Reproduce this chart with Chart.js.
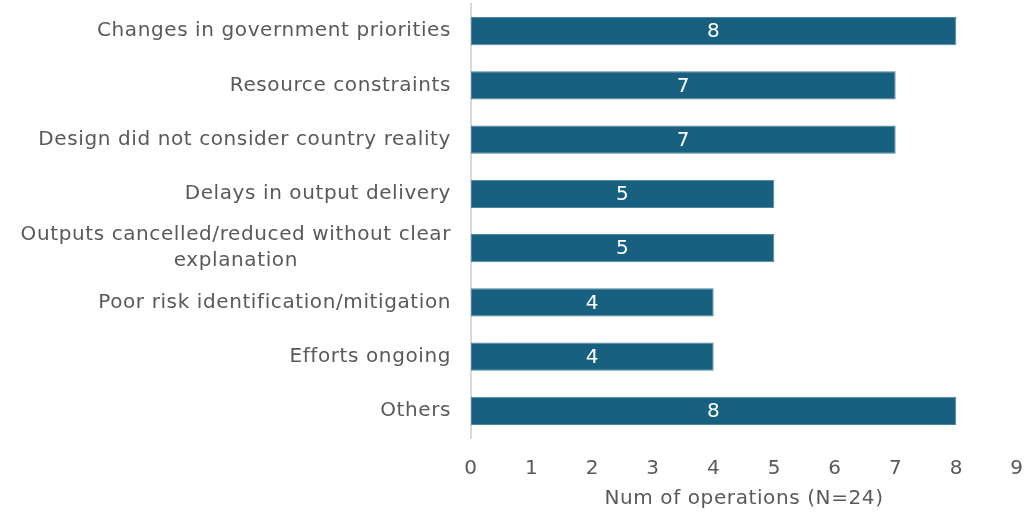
<!DOCTYPE html>
<html lang="en">
<head>
    <meta charset="UTF-8">
    <title>Num of operations</title>
    <style>
        body { margin: 0; background: #ffffff; }
        #wrap { width: 1026px; height: 515px; }
    </style>
</head>
<body>
    <div id="wrap">
        <canvas id="myChart" width="1026" height="515"></canvas>
    </div>

    <script src="https://cdn.jsdelivr.net/npm/chart.js"></script>
    <script>
        // 항목과 값
        const categories = [
            "Changes in government priorities",
            "Resource constraints",
            "Design did not consider country reality",
            "Delays in output delivery",
            ["Outputs cancelled/reduced without clear", "explanation"],
            "Poor risk identification/mitigation",
            "Efforts ongoing",
            "Others"
        ];
        const counts = [8, 7, 7, 5, 5, 4, 4, 8];
        const xTicks = [0, 1, 2, 3, 4, 5, 6, 7, 8, 9];
        const xTitle = "Num of operations (N=24)";

        const FONT = "'DejaVu Sans', sans-serif";
        const SIZE = 20;
        const SPACING = "0.6px";
        const GREY = "#595959";

        // 두 줄 라벨의 둘째 줄을 가운데 정렬처럼 보이게 뒤에 공백을 붙임
        const measure = document.createElement("canvas").getContext("2d");
        measure.font = SIZE + "px " + FONT;
        measure.letterSpacing = SPACING;
        function centerLines(label){
            if(!Array.isArray(label)) return label;
            const w0 = measure.measureText(label[0]).width;
            const sp = measure.measureText("\u00A0").width;
            return label.map(function(line, i){
                if(i == 0) return line;
                const gap = (w0 - measure.measureText(line).width) / 2;
                return line + "\u00A0".repeat(Math.max(0, Math.round(gap / sp)));
            });
        }

        // 글자 간격
        const spacing = {
            id: "spacing",
            beforeDraw(chart) { chart.ctx.letterSpacing = SPACING; }
        };

        // 막대 가운데에 값 표시
        const barLabels = {
            id: "barLabels",
            afterDatasetsDraw(chart) {
                const c = chart.ctx;
                const meta = chart.getDatasetMeta(0);
                c.save();
                c.fillStyle = "#ffffff";
                c.font = SIZE + "px " + FONT;
                c.textAlign = "center";
                c.textBaseline = "middle";
                meta.data.forEach(function(bar, i){
                    const mid = (bar.x + bar.base) / 2;
                    c.fillText(String(counts[i]), mid, bar.y + 1);
                });
                c.restore();
            }
        };

        const ctx = document.getElementById("myChart");
        new Chart(ctx, {
            type: "bar",
            data: {
                labels: categories.map(centerLines),
                datasets: [{
                    data: counts,
                    backgroundColor: "#17607f",
                    borderColor: "#4f86a0",
                    borderWidth: 1,
                    borderSkipped: false,
                    barPercentage: 0.52,
                    categoryPercentage: 1.0
                }]
            },
            options: {
                indexAxis: "y",
                responsive: false,
                animation: false,
                layout: { padding: 0 },
                plugins: {
                    legend: { display: false },
                    tooltip: { enabled: false }
                },
                scales: {
                    x: {
                        min: 0,
                        max: 9,
                        afterBuildTicks(scale) {
                            scale.ticks = xTicks.map(v => ({ value: v }));
                        },
                        afterFit(scale) {
                            scale.paddingRight = 9;
                            scale.height = 77;
                        },
                        grid: { display: false, drawTicks: false },
                        border: { display: false },
                        ticks: { color: GREY, font: { family: FONT, size: SIZE }, padding: 19, autoSkip: false, maxRotation: 0 },
                        title: {
                            display: true,
                            text: xTitle,
                            color: GREY,
                            font: { family: FONT, size: SIZE },
                            padding: { top: 0, bottom: 4 }
                        }
                    },
                    y: {
                        afterFit(scale) {
                            scale.width = 471;
                            scale.paddingTop = 4;
                            scale.paddingBottom = 0;
                        },
                        grid: { display: false, drawTicks: false },
                        border: { display: true, color: "#d9d9d9", width: 2 },
                        ticks: { color: GREY, font: { family: FONT, size: SIZE, lineHeight: 1.3 }, padding: 20, autoSkip: false }
                    }
                }
            },
            plugins: [spacing, barLabels]
        });
    </script>
</body>
</html>
